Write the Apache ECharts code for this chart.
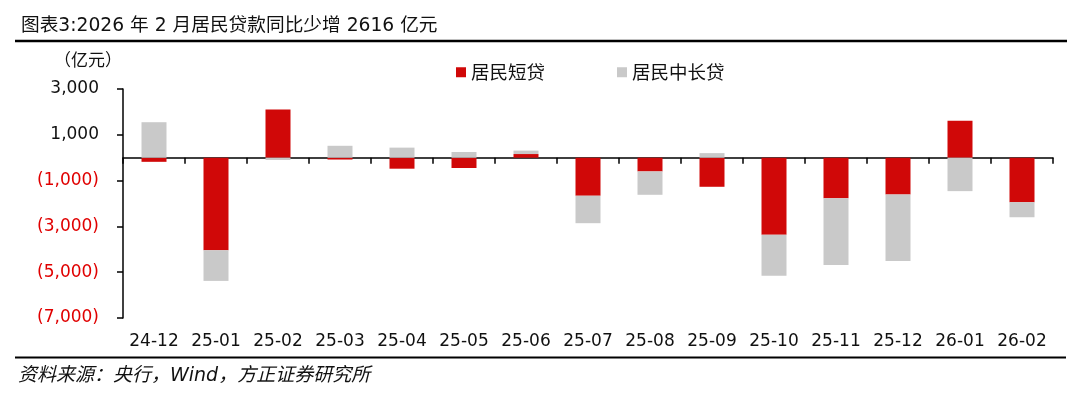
<!DOCTYPE html>
<html>
<head>
<meta charset="utf-8">
<script src="https://cdn.jsdelivr.net/npm/echarts@6/dist/echarts.min.js"></script>
<style>
html,body{margin:0;padding:0;background:#fff;}
#c{width:1080px;height:396px;}
</style>
</head>
<body>
<div id="c"></div>
<script>
const categories = ['24-12','25-01','25-02','25-03','25-04','25-05','25-06','25-07','25-08','25-09','25-10','25-11','25-12','26-01','26-02'];
const shortLoans = [-180,-4040,2100,-80,-480,-450,160,-1660,-600,-1270,-3360,-1770,-1610,1610,-1940];
const longLoans = [1550,-1340,-100,520,440,250,150,-1200,-1020,200,-1800,-2920,-2900,-1460,-660];
const yTickLabels = ['(7,000)','(5,000)','(3,000)','(1,000)','1,000','3,000'];
const yMin = -7000, yMax = 3000;

const chart = echarts.init(document.getElementById('c'), null, {renderer:'canvas'});
const numFont = 'DejaVu Sans';
const cjkFont = '"DejaVu Sans","Noto Sans CJK SC"';
chart.setOption({
  animation:false,
  backgroundColor:'#fff',
  title:{
    text:'图表3:2026 年 2 月居民贷款同比少增 2616 亿元',
    left:16, top:12,
    textStyle:{fontFamily:cjkFont, fontSize:18.7, fontWeight:'normal', color:'#111'}
  },
  legend:{
    left:451, top:58,
    itemWidth:10, itemHeight:10, itemGap:72,
    icon:'rect',
    textStyle:{fontFamily:'"Noto Sans CJK SC"', fontSize:18.5, color:'#111'},
    data:['居民短贷','居民中长贷']
  },
  grid:{left:123, right:27, top:89, bottom:78, containLabel:false, outerBoundsMode:'none'},
  xAxis:[{
    type:'category', data:categories, gridIndex:0,
    axisLine:{show:true, onZero:true, onZeroAxisIndex:0, lineStyle:{color:'#000', width:1.5}},
    axisTick:{show:true, length:6, interval:0, lineStyle:{color:'#000', width:1.5}},
    axisLabel:{show:false}
  },{
    type:'category', data:categories, gridIndex:0, position:'bottom',
    axisLine:{show:false, onZero:false}, axisTick:{show:false},
    axisLabel:{show:true, interval:0, margin:15, fontFamily:numFont, fontSize:17, color:'#111'}
  }],
  yAxis:[{
    type:'value', min:yMin, max:yMax, show:false
  },{
    type:'category', data:yTickLabels, boundaryGap:false, position:'left',
    axisLine:{show:true, lineStyle:{color:'#000', width:1.5}},
    axisTick:{show:true, length:6, interval:0, lineStyle:{color:'#000', width:1.5}},
    axisLabel:{interval:0, margin:24, fontFamily:numFont, fontSize:17,
      color:function(v){ return v.charAt(0)==='(' ? '#E00000' : '#111'; }},
    splitLine:{show:false}
  }],
  graphic:[
    {type:'line', shape:{x1:15,y1:41,x2:1067,y2:41}, style:{stroke:'#000', lineWidth:2.5}},
    {type:'line', shape:{x1:15,y1:357.5,x2:1066,y2:357.5}, style:{stroke:'#000', lineWidth:2}},
    {type:'text', left:54, top:51, style:{text:'（亿元）', font:'17px "Noto Sans CJK SC"', fill:'#111'}},
    {type:'text', left:18, top:367, style:{
      text:'资料来源：央行，Wind，方正证券研究所',
      font:'italic 19px "DejaVu Sans","Noto Sans CJK SC"', fill:'#111'
    }}
  ],
  series:[{
    name:'居民短贷', type:'bar', stack:'total', xAxisIndex:0, yAxisIndex:0,
    barWidth:25, data:shortLoans, itemStyle:{color:'#D00808'}
  },{
    name:'居民中长贷', type:'bar', stack:'total', xAxisIndex:0, yAxisIndex:0,
    barWidth:25, data:longLoans, itemStyle:{color:'#C9C9C9'}
  }]
});
</script>
</body>
</html>
